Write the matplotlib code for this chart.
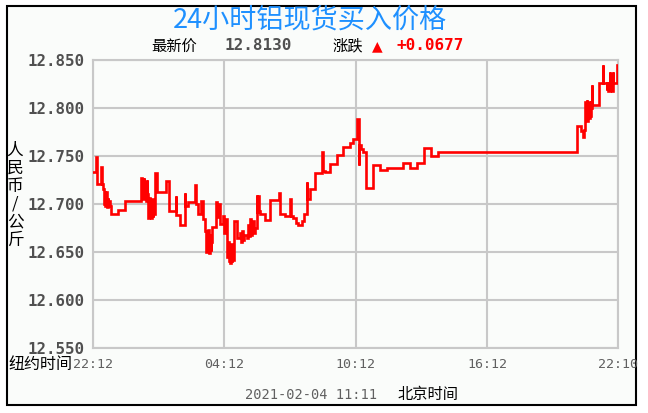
import matplotlib
matplotlib.use("Agg")
import matplotlib.pyplot as plt
from matplotlib.patches import Rectangle

# ---------------- data ----------------
# minutes since 22:12 (New York time), price in RMB/kg
minutes = [0, 7, 10, 21, 24, 28, 30, 32, 34, 36, 38, 40, 42, 44, 47, 49, 69, 88,
           131, 133, 135, 137, 139, 141, 143, 145, 147, 149,
           151, 153, 155, 157, 159, 161, 163, 165, 167,
           170, 174, 201, 207, 226, 228, 237, 251, 253, 260, 279, 281, 288, 296, 301,
           308, 310, 312, 314, 316, 318, 320, 322, 324,
           326, 338, 341, 344, 347, 355, 359, 363,
           366, 368, 370, 372, 374, 376, 378, 380, 382, 384,
           386, 394, 403, 405, 408, 411, 414, 421, 424, 427, 430, 433, 436, 440, 444,
           448, 450, 452, 454, 457, 471, 485, 510, 512, 526, 540, 542, 549, 556, 562,
           572, 578, 585, 587, 594, 608, 626, 629, 635, 649, 667, 686, 704, 713, 722,
           728, 729, 733, 740, 748, 766, 786, 806, 848, 868, 888, 907, 925, 946,
           1326, 1337, 1343, 1346,
           1348, 1350, 1352, 1354, 1356, 1358, 1360, 1362, 1364,
           1366, 1368, 1387, 1396, 1398, 1407, 1409, 1410, 1416, 1417, 1420, 1422,
           1423, 1424, 1425, 1436, 1438]
prices = [12.733, 12.749, 12.721, 12.739, 12.721, 12.716, 12.700, 12.714, 12.698, 12.712,
          12.697, 12.706, 12.698, 12.703, 12.698, 12.690, 12.694, 12.703,
          12.727, 12.708, 12.724, 12.705, 12.727, 12.712, 12.720, 12.703, 12.725, 12.710,
          12.685, 12.706, 12.686, 12.704, 12.685, 12.705, 12.686, 12.704, 12.690,
          12.732, 12.713, 12.724, 12.693, 12.708, 12.689, 12.678, 12.711, 12.698, 12.702,
          12.720, 12.700, 12.690, 12.703, 12.684,
          12.672, 12.650, 12.670, 12.652, 12.673, 12.649, 12.668, 12.651, 12.660,
          12.676, 12.702, 12.686, 12.700, 12.679, 12.687, 12.670, 12.684,
          12.663, 12.645, 12.660, 12.641, 12.655, 12.639, 12.658, 12.640, 12.650, 12.642,
          12.682, 12.665, 12.670, 12.660, 12.672, 12.662, 12.668, 12.665, 12.678, 12.667,
          12.684, 12.668, 12.682, 12.670, 12.675,
          12.709, 12.692, 12.708, 12.693, 12.690, 12.683, 12.704, 12.711, 12.690, 12.687,
          12.705, 12.688, 12.685, 12.680, 12.678,
          12.682, 12.690, 12.723, 12.705, 12.716, 12.732, 12.754, 12.734, 12.733, 12.742,
          12.751, 12.759, 12.764, 12.768, 12.789,
          12.741, 12.7615, 12.757, 12.754, 12.717, 12.741, 12.735, 12.738, 12.743, 12.738,
          12.743, 12.758, 12.750, 12.754,
          12.781, 12.776, 12.770, 12.777,
          12.806, 12.788, 12.808, 12.786, 12.805, 12.790, 12.807, 12.792, 12.800,
          12.824, 12.803, 12.826, 12.845, 12.826, 12.819, 12.826, 12.818, 12.838, 12.819,
          12.826, 12.818, 12.838, 12.819, 12.826, 12.845, 12.845]

y_ticks = [12.550, 12.600, 12.650, 12.700, 12.750, 12.800, 12.850]
x_ticks = [0, 360, 720, 1080, 1438]
x_tick_labels = ["22:12", "04:12", "10:12", "16:12", "22:10"]

title = "24小时铝现货买入价格"
latest_label, latest_value = "最新价", "12.8130"
change_label, change_value = "涨跌", "+0.0677"
date_text, bj_text = "2021-02-04 11:11", "北京时间"
ny_text = "纽约时间"
y_unit = "人民币/公斤"

# ---------------- figure ----------------
W, H = 648, 413
fig = plt.figure(figsize=(W / 100, H / 100), dpi=100)
fig.patch.set_facecolor("white")

def fx(x):
    return x / W

def fy(y):
    return 1 - y / H

bg = "#FAFCFA"
frame = Rectangle((fx(7), fy(405)), fx(636) - fx(7), fy(6) - fy(405),
                  transform=fig.transFigure, facecolor=bg,
                  edgecolor="black", linewidth=1.5, zorder=-10)
fig.patches.append(frame)

L, R, T, B = 93, 618, 60, 348
ax = fig.add_axes([fx(L), fy(B), fx(R) - fx(L), fy(T) - fy(B)])
ax.set_zorder(1)
ax.set_facecolor(bg)
ax.step(minutes, prices, where="post", color="#FF0000", linewidth=1.9,
        solid_joinstyle="miter", zorder=3)
ax.set_xlim(0, 1438)
ax.set_ylim(12.55, 12.85)
ax.set_yticks(y_ticks)
ax.set_yticklabels([f"{v:.3f}" for v in y_ticks])
ax.set_xticks(x_ticks)
ax.set_xticklabels(x_tick_labels)
ax.set_axisbelow(True)
ax.grid(True, color="#C8C8C8", linewidth=1.5)
for s in ax.spines.values():
    s.set_color("#C8C8C8")
    s.set_linewidth(1.5)
ax.tick_params(length=0)
ax.tick_params(axis="y", pad=6, labelsize=11.3, labelcolor="#505050")
ax.tick_params(axis="x", pad=7, labelsize=9.5, labelcolor="#606060")
for lab in ax.get_yticklabels():
    lab.set_fontfamily("DejaVu Sans Mono")
    lab.set_fontweight("bold")
for lab in ax.get_xticklabels():
    lab.set_fontfamily("DejaVu Sans Mono")

cjk = ["Noto Sans CJK SC", "DejaVu Sans"]

fig.text(fx(310), fy(20), title, color="#1E90FF", fontsize=19.5, family=cjk,
         fontweight="medium", ha="center", va="center")
fig.text(fx(151), fy(46), latest_label, color="black", fontsize=11, family=cjk,
         ha="left", va="center")
fig.text(fx(225), fy(46), latest_value, color="#505050", fontsize=11.5,
         family="DejaVu Sans Mono", fontweight="bold", ha="left", va="center")
fig.text(fx(332), fy(46), change_label, color="black", fontsize=11, family=cjk,
         ha="left", va="center")
fig.text(fx(372), fy(46), "▲", color="#FF0000", fontsize=10, family="DejaVu Sans",
         ha="left", va="center")
fig.text(fx(397), fy(46), change_value, color="#FF0000", fontsize=11.5,
         family="DejaVu Sans Mono", fontweight="bold", ha="left", va="center")

fig.text(fx(72), fy(364), ny_text, color="black", fontsize=11.5, family=cjk,
         ha="right", va="center")
fig.text(fx(245), fy(395), date_text, color="#606060", fontsize=9.8,
         family="DejaVu Sans Mono", ha="left", va="center")
fig.text(fx(398), fy(395), bj_text, color="black", fontsize=11, family=cjk,
         ha="left", va="center")

for i, ch in enumerate(y_unit):
    fig.text(fx(15), fy(150 + 18 * i), ch, color="black", fontsize=12, family=cjk,
             ha="center", va="center")

fig.savefig("out.png", dpi=100, facecolor="white")
